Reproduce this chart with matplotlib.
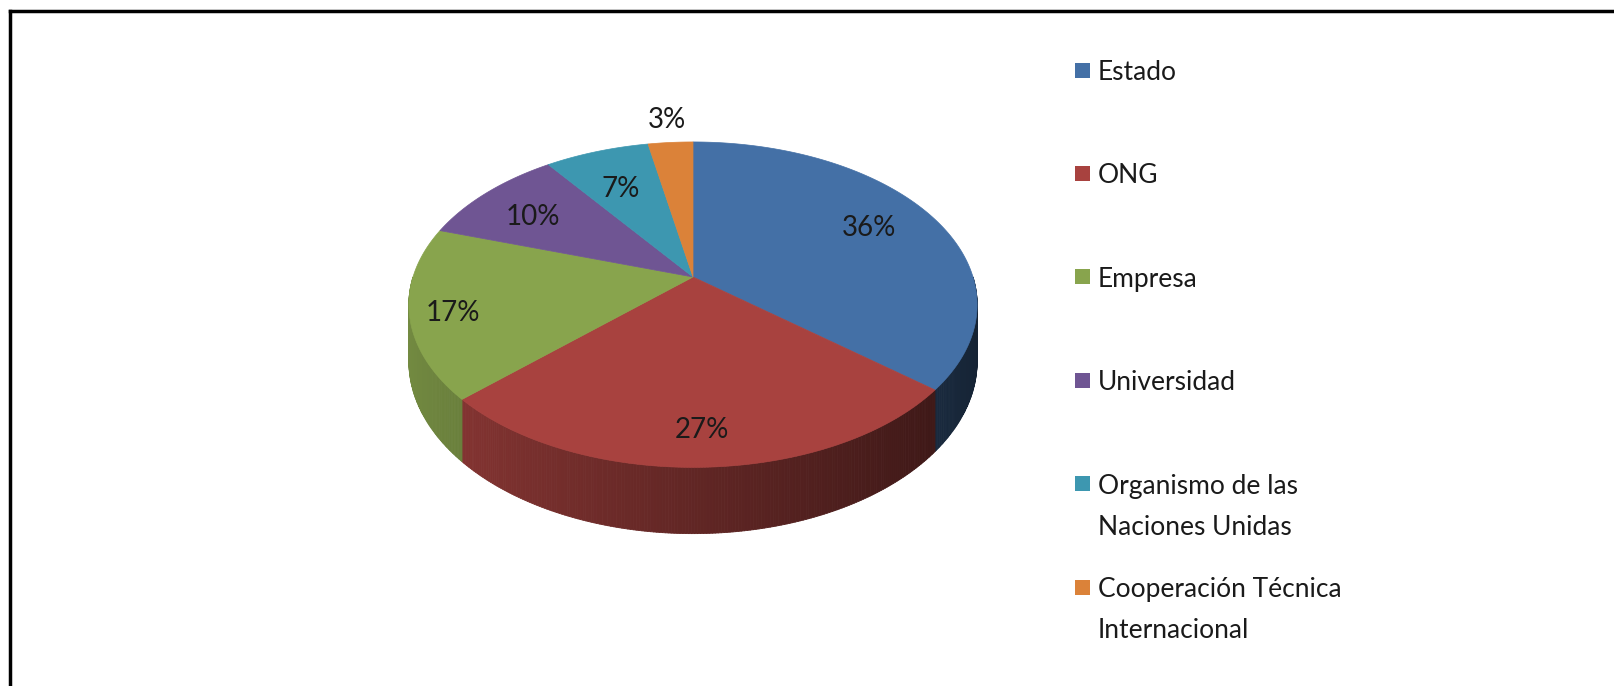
import numpy as np
import matplotlib
matplotlib.use("Agg")
import matplotlib.pyplot as plt
from matplotlib.patches import Polygon, Rectangle
from matplotlib.collections import PolyCollection
from matplotlib.colors import to_rgb

# data
categories = ["Estado", "ONG", "Empresa", "Universidad",
              "Organismo de las\nNaciones Unidas",
              "Cooperación Técnica\nInternacional"]
shares = [36, 27, 17, 10, 7, 3]
pct_labels = ["36%", "27%", "17%", "10%", "7%", "3%"]

# style
colors = ["#4470A6", "#A8423F", "#88A44D", "#6F5593", "#3D97B0", "#DB8239"]
label_r = [0.73, 0.83, 0.85, 0.76, 0.72, 1.2]
label_dy = [-2, 0, 6, 6, 6, 0]
FONT = "Lato"

W, H = 1615, 686
CX, CY = 693, 277      # apex of the pie (pixels)
A, B = 280, 158        # half width / half height scale
K = 0.17               # perspective
D0 = 55                # thickness


def proj(theta, r=1.0, depth=0.0):
    t = np.radians(theta)
    u = r * np.cos(t)
    v = -r * np.sin(t)
    s = 1.0 / (1.0 - K * v)
    return CX + A * u * s, CY + (B * v + depth) * s


def shade(theta):
    return 0.58 - 0.27 * np.cos(np.radians(theta))


fig = plt.figure(figsize=(W / 100, H / 100), dpi=100)
ax = fig.add_axes([0, 0, 1, 1])
ax.set_xlim(0, W)
ax.set_ylim(H, 0)
ax.axis("off")

total = float(sum(shares))
bounds = [90.0]
for s in shares:
    bounds.append(bounds[-1] - 360.0 * s / total)

# side walls (front half only)
quads, qcolors = [], []
for i, c in enumerate(colors):
    hi, lo = bounds[i], bounds[i + 1]
    rgb = np.array(to_rgb(c))
    for off in (0, -360):
        a0 = max(lo, -180 + off)
        a1 = min(hi, 0 + off)
        if a1 <= a0:
            continue
        steps = np.linspace(a0, a1, max(2, int((a1 - a0) * 2) + 1))
        for t0, t1 in zip(steps[:-1], steps[1:]):
            x0, y0 = proj(t0)
            x1, y1 = proj(t1)
            x2, y2 = proj(t1, depth=D0)
            x3, y3 = proj(t0, depth=D0)
            quads.append([(x0, y0), (x1, y1), (x2, y2), (x3, y3)])
            qcolors.append(np.clip(rgb * shade((t0 + t1) / 2), 0, 1))
pc = PolyCollection(quads, facecolors=qcolors, edgecolors=qcolors, linewidths=0.6)
ax.add_collection(pc)

# top faces
for i, c in enumerate(colors):
    hi, lo = bounds[i], bounds[i + 1]
    th = np.linspace(hi, lo, 200)
    xs, ys = proj(th)
    pts = [(CX, CY)] + list(zip(xs, ys))
    ax.add_patch(Polygon(pts, closed=True, facecolor=c, edgecolor=c, linewidth=0.5))

# percentage labels
for i, lab in enumerate(pct_labels):
    mid = (bounds[i] + bounds[i + 1]) / 2
    x, y = proj(mid, r=label_r[i])
    ax.text(x, y + label_dy[i], lab, ha="center", va="center", fontsize=20,
            family=FONT, color="#1a1a1a")

# legend
for i, (name, c) in enumerate(zip(categories, colors)):
    y = 70 + i * 103.4
    ax.add_patch(Rectangle((1075, y - 7.5), 15, 15, facecolor=c, edgecolor="none"))
    ax.text(1098, y - 10, name, ha="left", va="top", fontsize=19,
            family=FONT, color="#1a1a1a", linespacing=1.82)

# frame (left and top edges)
ax.plot([10, 10], [H, 11], color="black", linewidth=2.5, solid_capstyle="projecting")
ax.plot([10, W], [11, 11], color="black", linewidth=2.5, solid_capstyle="projecting")

fig.savefig("out.png", dpi=100)
